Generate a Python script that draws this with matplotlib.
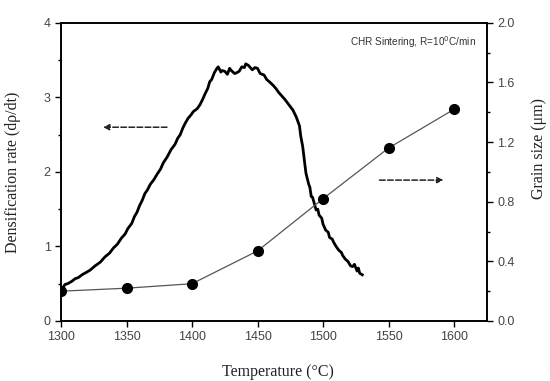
import numpy as np
import matplotlib.pyplot as plt
from matplotlib.ticker import MultipleLocator

# -------------------------- DATA --------------------------
temp_rate = [1300.5, 1301.5, 1303, 1305, 1308, 1311, 1313, 1316, 1318, 1322, 1326,
             1330, 1333.5, 1337, 1340, 1343, 1346, 1349, 1351, 1354, 1356, 1358,
             1360, 1362, 1364, 1366, 1368, 1371, 1373, 1376, 1378, 1381, 1384,
             1387, 1389, 1391, 1393, 1395, 1397, 1399, 1401, 1404, 1406, 1408,
             1410, 1412, 1413.5, 1415, 1417, 1419, 1420, 1422, 1423, 1425, 1427,
             1428.7, 1430, 1432.5, 1434, 1436, 1438, 1440, 1441, 1443, 1444, 1446,
             1448, 1450, 1452, 1455, 1457, 1459, 1462, 1464, 1466, 1469, 1471,
             1474, 1477, 1479.5, 1482, 1483, 1484.5, 1486, 1487, 1489, 1490, 1491,
             1492, 1493, 1494.7, 1496, 1497, 1499, 1500, 1502, 1504, 1505, 1507,
             1508, 1510, 1512, 1514, 1515, 1517, 1519, 1521, 1522.6, 1524, 1526,
             1527, 1528, 1530]
rate = [0.38, 0.45, 0.49, 0.50, 0.53, 0.57, 0.58, 0.62, 0.64, 0.68, 0.74,
        0.79, 0.86, 0.91, 0.98, 1.03, 1.11, 1.17, 1.24, 1.31, 1.40, 1.46,
        1.55, 1.62, 1.71, 1.76, 1.83, 1.90, 1.96, 2.04, 2.12, 2.20, 2.30,
        2.37, 2.45, 2.50, 2.59, 2.66, 2.72, 2.76, 2.81, 2.85, 2.90, 2.97,
        3.05, 3.12, 3.21, 3.24, 3.33, 3.39, 3.41, 3.34, 3.36, 3.35, 3.31,
        3.39, 3.36, 3.32, 3.33, 3.35, 3.41, 3.40, 3.45, 3.43, 3.41, 3.37,
        3.40, 3.39, 3.32, 3.30, 3.24, 3.21, 3.16, 3.12, 3.07, 3.01, 2.97,
        2.90, 2.83, 2.74, 2.62, 2.48, 2.34, 2.12, 1.98, 1.84, 1.79, 1.67,
        1.66, 1.60, 1.49, 1.50, 1.42, 1.38, 1.30, 1.22, 1.19, 1.12, 1.10,
        1.06, 1.00, 0.95, 0.92, 0.88, 0.83, 0.80, 0.74, 0.73, 0.76, 0.67,
        0.71, 0.64, 0.62]

temp_grain = [1300, 1350, 1400, 1450, 1500, 1550, 1600]
grain_size = [0.20, 0.22, 0.25, 0.47, 0.82, 1.16, 1.42]

serif = ['Liberation Serif', 'DejaVu Serif']
sans = ['Liberation Sans', 'DejaVu Sans']
plt.rcParams['font.family'] = sans

# -------------------------- PLOT --------------------------
fig = plt.figure(figsize=(5.5, 3.81), dpi=100)
ax = fig.add_axes([0.111, 0.1575, 0.774, 0.7825])
ax2 = ax.twinx()

ax.plot(temp_rate, rate, color='black', linewidth=2.0, zorder=3)
ax2.plot(temp_grain, grain_size, color='#555555', linewidth=0.9,
         marker='o', markersize=7, markerfacecolor='black',
         markeredgecolor='black', zorder=2)

ax.set_xlim(1300, 1625)
ax.set_ylim(0, 4)
ax2.set_ylim(0, 2.0)

ax.xaxis.set_major_locator(MultipleLocator(50))
ax.yaxis.set_major_locator(MultipleLocator(1))
ax.yaxis.set_minor_locator(MultipleLocator(0.5))
ax2.yaxis.set_major_locator(MultipleLocator(0.4))
ax2.yaxis.set_minor_locator(MultipleLocator(0.2))
ax2.yaxis.set_major_formatter(plt.FormatStrFormatter('%.1f'))

for a in (ax, ax2):
    a.tick_params(which='major', direction='out', length=4, width=1,
                  labelsize=9, labelcolor='#444444')
    a.tick_params(which='minor', direction='out', length=2.5, width=1)
    for s in a.spines.values():
        s.set_linewidth(1.2)

ax.set_xlabel('Temperature (°C)', family=serif, fontsize=11.5, color='#222222')
ax.xaxis.set_label_coords(0.51, -0.145)
ax.set_ylabel('Densification rate (dρ/dt)', family=serif, fontsize=11.5, color='#222222')
ax.yaxis.set_label_coords(-0.095, 0.5)
ax2.set_ylabel('Grain size (μm)', family=serif, fontsize=11.5, color='#222222')
ax2.yaxis.set_label_coords(1.105, 0.58)

# direction arrows
ax.annotate('', xy=(1330, 2.6), xytext=(1383, 2.6),
            arrowprops=dict(arrowstyle='-|>', linestyle='--', color='#222222',
                            linewidth=1.1, mutation_scale=9))
ax.annotate('', xy=(1594, 1.89), xytext=(1541, 1.89),
            arrowprops=dict(arrowstyle='-|>', linestyle='--', color='#222222',
                            linewidth=1.1, mutation_scale=9))

ax.text(0.975, 0.935, 'CHR Sintering, R=10$^0$C/min', transform=ax.transAxes,
        ha='right', va='center', fontsize=7.2, color='#333333')

plt.savefig('out.png', dpi=100)
